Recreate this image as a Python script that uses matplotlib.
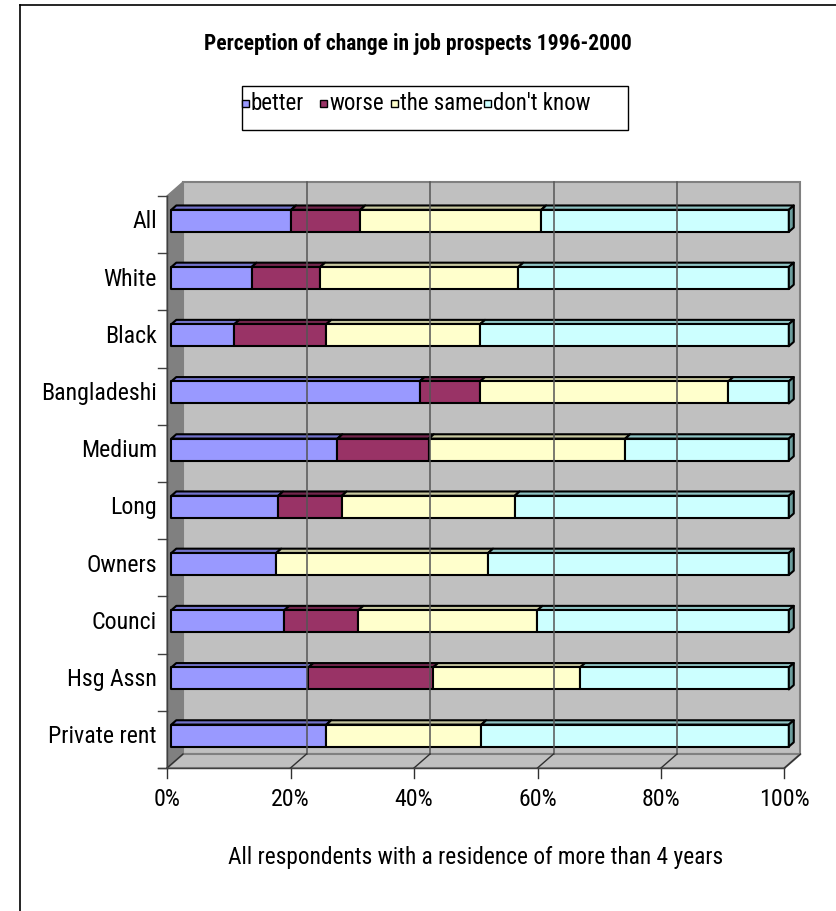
import matplotlib
matplotlib.use("Agg")
import matplotlib.pyplot as plt
from matplotlib.patches import Polygon, Rectangle
from matplotlib.lines import Line2D
from matplotlib import font_manager

# chart data (percent of respondents)
categories = ["All", "White", "Black", "Bangladeshi", "Medium", "Long",
              "Owners", "Counci", "Hsg Assn", "Private rent"]
better = [19.4, 13.0, 10.2, 40.2, 26.9, 17.3, 17.0, 18.3, 22.2, 25.1]
worse = [11.2, 11.1, 14.9, 9.8, 14.8, 10.3, 0.0, 12.0, 20.2, 0.0]
same = [29.3, 32.1, 24.9, 40.2, 31.8, 28.0, 34.3, 29.0, 23.8, 25.1]
dont_know = [40.1, 43.8, 50.0, 9.8, 26.5, 44.4, 48.7, 40.7, 33.8, 49.8]
series_names = ["better", "worse", "the same", "don't know"]
xticks = [0, 20, 40, 60, 80, 100]
xtick_labels = ["0%", "20%", "40%", "60%", "80%", "100%"]

FACE = ["#9999ff", "#993366", "#ffffcc", "#ccffff"]
TOP = ["#7373cc", "#73264d", "#c8c8a0", "#8fc4c4"]
SIDE = "#6b9c9c"

W, H = 837, 912
PX_X = 6.175   # pixels per percent
PX_Y = 57.2    # pixels per category row
X0, Y0 = 167, 197  # front plane origin in pixels

# narrow sans similar to Arial Narrow
names = {f.name for f in font_manager.fontManager.ttflist}
FONT = "Liberation Sans"
for cand in ["Liberation Sans Narrow", "Arial Narrow", "Roboto Condensed",
             "Archivo Narrow", "PT Sans Narrow", "IBM Plex Sans Condensed"]:
    if cand in names:
        FONT = cand
        break
FS = 17.2


def pt(v, r, d=0.0):
    # data point pushed back by depth d (0 = front of floor, 1 = back wall)
    return (v + 16 * d / PX_X, r - 14 * d / PX_Y)


def fx(px):
    return px / W


def fy(py):
    return 1 - py / H


fig = plt.figure(figsize=(W / 100, H / 100), dpi=100)
ax = fig.add_axes([0, 0, 1, 1])
ax.set_xlim(-X0 / PX_X, (W - X0) / PX_X)
ax.set_ylim((H - Y0) / PX_Y, -Y0 / PX_Y)
ax.axis("off")

n = len(categories)

# walls and floor
ax.add_patch(Polygon([pt(0, 0, 1), pt(100, 0, 1), pt(100, n, 1), pt(0, n, 1)],
                     fc="#c0c0c0", ec="#808080", lw=1.5))
ax.add_patch(Polygon([pt(0, 0, 0), pt(0, 0, 1), pt(0, n, 1), pt(0, n, 0)],
                     fc="#808080", ec="#808080", lw=1))
ax.add_patch(Polygon([pt(0, n, 0), pt(100, n, 0), pt(100, n, 1), pt(0, n, 1)],
                     fc="#c0c0c0", ec="#808080", lw=1.5))

for j, v in enumerate(xticks):
    if 0 < v < 100:
        ax.plot(*zip(pt(v, 0, 1), pt(v, n, 1)), color="#555555", lw=1.1)
    ax.plot(*zip(pt(v, n, 1), pt(v, n, 0)), color="#303030", lw=1)
    ax.plot([v, v], [n, n + 10 / PX_Y], color="#303030", lw=1)
    ax.text(v, n + 31 / PX_Y, xtick_labels[j], ha="center", va="center",
            fontsize=FS, family=FONT)

# left axis line and ticks
ax.plot([0, 0], [0, n], color="#404040", lw=1)
ax.plot([-9 / PX_X, 100], [n, n], color="#404040", lw=1)
for k in range(n + 1):
    ax.plot([-9 / PX_X, 0], [k, k], color="#404040", lw=1)

# stacked bars
d0, d1, h = 0.27, 0.58, 0.385
series = [better, worse, same, dont_know]
for i, cat in enumerate(categories):
    c = i + 0.5
    left = 0.0
    for s, vals in enumerate(series):
        w = vals[i]
        if w <= 0:
            continue
        v0, v1 = left, left + w
        ax.add_patch(Polygon([pt(v0, c - h / 2, d0), pt(v1, c - h / 2, d0),
                              pt(v1, c - h / 2, d1), pt(v0, c - h / 2, d1)],
                             fc=TOP[s], ec="black", lw=1.5, joinstyle="round"))
        ax.add_patch(Polygon([pt(v0, c - h / 2, d0), pt(v1, c - h / 2, d0),
                              pt(v1, c + h / 2, d0), pt(v0, c + h / 2, d0)],
                             fc=FACE[s], ec="black", lw=1.5, joinstyle="round"))
        left = v1
    ax.add_patch(Polygon([pt(left, c - h / 2, d0), pt(left, c - h / 2, d1),
                          pt(left, c + h / 2, d1), pt(left, c + h / 2, d0)],
                         fc=SIDE, ec="black", lw=1.5, joinstyle="round"))
    lx, ly = pt(0, c, d0)
    ax.text(-10 / PX_X, ly, cat, ha="right", va="center", fontsize=FS, family=FONT)

# title, axis label, legend
fig.text(fx(418), fy(44), "Perception of change in job prospects 1996-2000",
         ha="center", va="center", fontsize=15.5, fontweight="bold", family=FONT)
fig.text(fx(476), fy(858), "All respondents with a residence of more than 4 years",
         ha="center", va="center", fontsize=16.8, family=FONT)

fig.add_artist(Rectangle((fx(242), fy(131)), fx(628) - fx(242), fy(87) - fy(131),
                         transform=fig.transFigure, fill=False, ec="black", lw=1))
leg_x = [246, 324, 395, 488]
for s, name in enumerate(series_names):
    fig.add_artist(Rectangle((fx(leg_x[s] - 3.5), fy(108)), 7 / W, 7 / H,
                             transform=fig.transFigure, fc=FACE[s], ec="black", lw=1))
    fig.text(fx(leg_x[s] + 5), fy(104), name, ha="left", va="center",
             fontsize=16.5, family=FONT)

# outer frame
fig.add_artist(Line2D([fx(20), 1], [fy(6), fy(6)], color="black", lw=1.2))
fig.add_artist(Line2D([fx(20), fx(20)], [fy(6), 0], color="black", lw=1.2))

fig.savefig("out.png", dpi=100)
